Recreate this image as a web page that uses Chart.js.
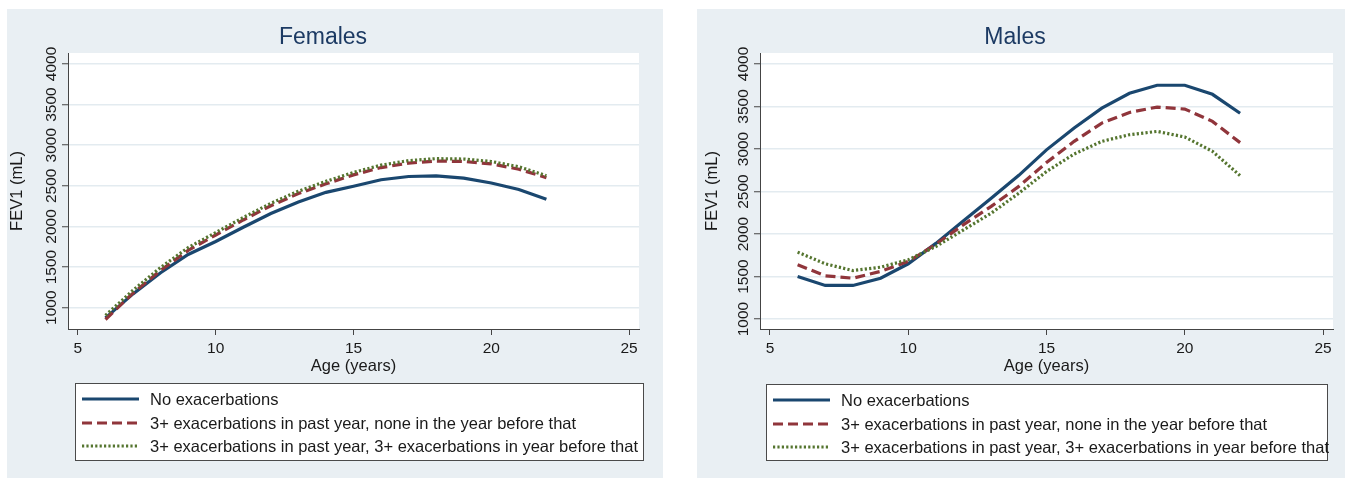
<!DOCTYPE html>
<html>
<head>
<meta charset="utf-8">
<script src="https://cdn.jsdelivr.net/npm/chart.js@4.4.1/dist/chart.umd.min.js"></script>
<style>
  body { margin: 0; background: #fff; width: 1352px; height: 479px; position: relative; overflow: hidden; }
  .panel { position: absolute; top: 9px; height: 469px; background: #e9eff3; }
  #p1 { left: 7px; width: 656px; }
  #p2 { left: 697px; width: 648px; }
  canvas { display: block; }
</style>
</head>
<body>
<div class="panel" id="p1"><canvas id="females" width="656" height="469"></canvas></div>
<div class="panel" id="p2"><canvas id="males" width="648" height="469"></canvas></div>
<script>
// ages 6..22, predicted FEV1 (mL)
const ages = [6, 7, 8, 9, 10, 11, 12, 13, 14, 15, 16, 17, 18, 19, 20, 21, 22];
const xTicks = [5, 10, 15, 20, 25];
const yTicks = [1000, 1500, 2000, 2500, 3000, 3500, 4000];
const seriesNames = [
  'No exacerbations',
  '3+ exacerbations in past year, none in the year before that',
  '3+ exacerbations in past year, 3+ exacerbations in year before that'
];

const femaleNone     = [875, 1170, 1430, 1655, 1815, 1990, 2160, 2300, 2420, 2495, 2575, 2615, 2622, 2595, 2535, 2455, 2335];
const femalePastOnly = [855, 1180, 1460, 1705, 1895, 2080, 2255, 2405, 2525, 2635, 2725, 2780, 2805, 2800, 2770, 2705, 2600];
const femaleBoth     = [905, 1215, 1495, 1740, 1925, 2110, 2285, 2435, 2555, 2665, 2755, 2810, 2835, 2830, 2800, 2735, 2625];

const maleNone     = [1500, 1395, 1395, 1480, 1650, 1890, 2155, 2420, 2690, 2990, 3247, 3480, 3656, 3750, 3750, 3643, 3420];
const malePastOnly = [1638, 1509, 1480, 1560, 1677, 1880, 2110, 2325, 2560, 2840, 3090, 3305, 3430, 3493, 3470, 3325, 3075];
const maleBoth     = [1787, 1650, 1570, 1610, 1697, 1853, 2049, 2245, 2480, 2735, 2941, 3090, 3168, 3207, 3141, 2973, 2687];

const FONT = '"Liberation Sans", Arial, sans-serif';
const styles = [
  { color: '#1a476f', dash: [] , order: 3 },
  { color: '#90353b', dash: [10, 5], order: 2 },
  { color: '#55752f', dash: [2.2, 2.2], order: 1 }
];

// white plot region, rotated y labels and the boxed legend
const stataPlugin = {
  id: 'stata',
  beforeDraw(chart) {
    const { ctx, chartArea: a } = chart;
    ctx.save();
    ctx.fillStyle = '#ffffff';
    ctx.fillRect(a.left, a.top, a.right - a.left, a.bottom - a.top);
    ctx.restore();
  },
  afterDraw(chart, args, opts) {
    const { ctx, chartArea: a } = chart;
    const y = chart.scales.y;
    ctx.save();
    ctx.font = '15.5px ' + FONT;
    ctx.fillStyle = '#1a1a1a';
    ctx.textAlign = 'center';
    ctx.textBaseline = 'middle';
    yTicks.forEach(v => {
      ctx.save();
      ctx.translate(a.left - 16, y.getPixelForValue(v));
      ctx.rotate(-Math.PI / 2);
      ctx.fillText(String(v), 0, 0);
      ctx.restore();
    });

    const b = opts.box;
    ctx.fillStyle = '#ffffff';
    ctx.fillRect(b.x, b.y, b.w, b.h);
    ctx.strokeStyle = '#4a4a4a';
    ctx.lineWidth = 1;
    ctx.strokeRect(b.x + 0.5, b.y + 0.5, b.w, b.h);
    ctx.textAlign = 'left';
    ctx.font = '16.5px ' + FONT;
    chart.data.datasets.forEach((ds, i) => {
      const ry = b.y + opts.rows[i];
      ctx.save();
      ctx.strokeStyle = ds.borderColor;
      ctx.lineWidth = ds.borderWidth;
      ctx.setLineDash(ds.borderDash);
      ctx.beginPath();
      ctx.moveTo(b.x + 7, ry);
      ctx.lineTo(b.x + 64, ry);
      ctx.stroke();
      ctx.restore();
      ctx.fillStyle = '#1a1a1a';
      ctx.fillText(ds.label, b.x + 75, ry + 1);
    });
    ctx.restore();
  }
};

function makeChart(id, title, values, cfg) {
  const datasets = values.map((v, i) => ({
    label: seriesNames[i],
    data: v,
    borderColor: styles[i].color,
    borderDash: styles[i].dash,
    borderWidth: 3.2,
    borderCapStyle: 'butt',
    pointRadius: 0,
    tension: 0,
    fill: false,
    order: styles[i].order
  }));

  return new Chart(document.getElementById(id), {
    type: 'line',
    data: { labels: ages, datasets: datasets },
    options: {
      responsive: false,
      animation: false,
      layout: { padding: { left: 0, top: 0, right: cfg.padRight, bottom: 99 } },
      plugins: {
        legend: { display: false },
        tooltip: { enabled: false },
        title: {
          display: true,
          text: title,
          color: '#1c3a63',
          font: { family: FONT, size: 23, weight: 'normal', lineHeight: 1.2 },
          padding: { top: 15, bottom: 1.4 }
        },
        stata: { box: cfg.box, rows: [16, 40, 63] }
      },
      scales: {
        x: {
          type: 'linear',
          min: 4.64,
          max: 25.36,
          afterBuildTicks: s => { s.ticks = xTicks.map(v => ({ value: v })); },
          afterFit: s => { s.height = 50; },
          grid: { drawOnChartArea: false, drawTicks: true, tickLength: 6, tickColor: '#444', tickWidth: 1 },
          border: { display: true, color: '#444', width: 1 },
          ticks: { color: '#1a1a1a', padding: 4, maxRotation: 0, font: { family: FONT, size: 15.5 } },
          title: { display: true, text: 'Age (years)', color: '#1a1a1a', font: { family: FONT, size: 16.5 }, padding: { top: 0, bottom: 3 } }
        },
        y: {
          min: cfg.yMin,
          max: cfg.yMax,
          afterBuildTicks: s => { s.ticks = yTicks.map(v => ({ value: v })); },
          afterFit: s => { s.width = cfg.areaLeft; },
          grid: { color: '#e3ebf0', lineWidth: 1.5, drawTicks: true, tickLength: 6, tickColor: '#444', tickWidth: 1 },
          border: { display: true, color: '#444', width: 1 },
          ticks: { display: false },
          title: { display: true, text: 'FEV1 (mL)', color: '#1a1a1a', font: { family: FONT, size: 16.5 }, padding: { top: cfg.yTitlePad, bottom: 0 } }
        }
      }
    },
    plugins: [stataPlugin]
  });
}

// x values come from the ages array through the linear scale
function toPoints(arr) { return arr.map((v, i) => ({ x: ages[i], y: v })); }

makeChart('females', 'Females', [femaleNone, femalePastOnly, femaleBoth].map(toPoints), {
  yMin: 738, yMax: 4135, areaLeft: 61, padRight: 24, yTitlePad: 0.1,
  box: { x: 68, y: 374, w: 568, h: 77 }
});

makeChart('males', 'Males', [maleNone, malePastOnly, maleBoth].map(toPoints), {
  yMin: 883, yMax: 4129, areaLeft: 63, padRight: 12, yTitlePad: 6,
  box: { x: 69, y: 375, w: 561, h: 76 }
});
</script>
</body>
</html>
